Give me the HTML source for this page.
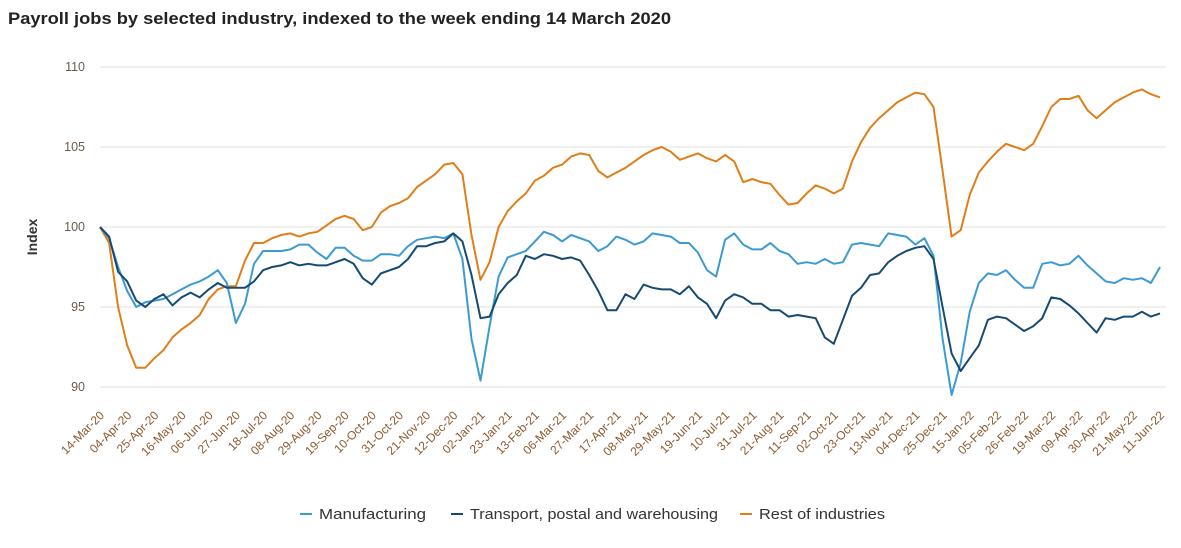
<!DOCTYPE html>
<html><head><meta charset="utf-8"><style>
body{margin:0;background:#fff;font-family:"Liberation Sans",sans-serif;}
svg text{font-family:"Liberation Sans",sans-serif;}
</style></head><body>
<svg id="chart" width="1181" height="543" xmlns="http://www.w3.org/2000/svg">
<text x="8" y="24" font-size="16.5" font-weight="bold" fill="#222" textLength="663" lengthAdjust="spacingAndGlyphs">Payroll jobs by selected industry, indexed to the week ending 14 March 2020</text>
<text transform="translate(37,237) rotate(-90)" text-anchor="middle" font-size="14" font-weight="bold" fill="#333">Index</text>
<g id="grid"></g><g id="xlabels"></g><g id="series"></g>
<g>
<line x1="300" y1="514" x2="312" y2="514" stroke="#3c9ad3" stroke-width="2"/>
<text x="319" y="519" font-size="15" fill="#333" textLength="107" lengthAdjust="spacingAndGlyphs">Manufacturing</text>
<line x1="451" y1="514" x2="463" y2="514" stroke="#164a70" stroke-width="2"/>
<text x="470" y="519" font-size="15" fill="#333" textLength="248" lengthAdjust="spacingAndGlyphs">Transport, postal and warehousing</text>
<line x1="740" y1="514" x2="752" y2="514" stroke="#e07e1a" stroke-width="2"/>
<text x="759" y="519" font-size="15" fill="#333" textLength="126" lengthAdjust="spacingAndGlyphs">Rest of industries</text>
</g>
</svg>
<script>
const yTicks=[90,95,100,105,110];
const tickLabels=["14-Mar-20","04-Apr-20","25-Apr-20","16-May-20","06-Jun-20","27-Jun-20","18-Jul-20","08-Aug-20","29-Aug-20","19-Sep-20","10-Oct-20","31-Oct-20","21-Nov-20","12-Dec-20","02-Jan-21","23-Jan-21","13-Feb-21","06-Mar-21","27-Mar-21","17-Apr-21","08-May-21","29-May-21","19-Jun-21","10-Jul-21","31-Jul-21","21-Aug-21","11-Sep-21","02-Oct-21","23-Oct-21","13-Nov-21","04-Dec-21","25-Dec-21","15-Jan-22","05-Feb-22","26-Feb-22","19-Mar-22","09-Apr-22","30-Apr-22","21-May-22","11-Jun-22"];
const manufacturing=[100,99.3,97.5,96.0,95.0,95.3,95.4,95.5,95.8,96.1,96.4,96.6,96.9,97.3,96.5,94.0,95.2,97.7,98.5,98.5,98.5,98.6,98.9,98.9,98.4,98.0,98.7,98.7,98.2,97.9,97.9,98.3,98.3,98.2,98.8,99.2,99.3,99.4,99.3,99.6,98.0,93.0,90.4,93.8,96.9,98.1,98.3,98.5,99.1,99.7,99.5,99.1,99.5,99.3,99.1,98.5,98.8,99.4,99.2,98.9,99.1,99.6,99.5,99.4,99.0,99.0,98.4,97.3,96.9,99.2,99.6,98.9,98.6,98.6,99.0,98.5,98.3,97.7,97.8,97.7,98.0,97.7,97.8,98.9,99.0,98.9,98.8,99.6,99.5,99.4,98.9,99.3,98.2,93.0,89.5,91.5,94.7,96.5,97.1,97.0,97.3,96.7,96.2,96.2,97.7,97.8,97.6,97.7,98.2,97.6,97.1,96.6,96.5,96.8,96.7,96.8,96.5,97.5];
const transport=[100,99.4,97.2,96.6,95.4,95.0,95.5,95.8,95.1,95.6,95.9,95.6,96.1,96.5,96.2,96.2,96.2,96.6,97.3,97.5,97.6,97.8,97.6,97.7,97.6,97.6,97.8,98.0,97.7,96.8,96.4,97.1,97.3,97.5,98.0,98.8,98.8,99.0,99.1,99.6,99.1,97.0,94.3,94.4,95.8,96.5,97.0,98.2,98.0,98.3,98.2,98.0,98.1,97.9,97.0,96.0,94.8,94.8,95.8,95.5,96.4,96.2,96.1,96.1,95.8,96.3,95.6,95.2,94.3,95.4,95.8,95.6,95.2,95.2,94.8,94.8,94.4,94.5,94.4,94.3,93.1,92.7,94.2,95.7,96.2,97.0,97.1,97.8,98.2,98.5,98.7,98.8,98.0,95.0,92.1,91.0,91.8,92.6,94.2,94.4,94.3,93.9,93.5,93.8,94.3,95.6,95.5,95.1,94.6,94.0,93.4,94.3,94.2,94.4,94.4,94.7,94.4,94.6];
const rest=[100,99,95,92.6,91.2,91.2,91.8,92.3,93.1,93.6,94.0,94.5,95.5,96.1,96.3,96.3,97.9,99.0,99.0,99.3,99.5,99.6,99.4,99.6,99.7,100.1,100.5,100.7,100.5,99.8,100.0,100.9,101.3,101.5,101.8,102.5,102.9,103.3,103.9,104.0,103.3,99.5,96.7,97.8,100.0,101.0,101.6,102.1,102.9,103.2,103.7,103.9,104.4,104.6,104.5,103.5,103.1,103.4,103.7,104.1,104.5,104.8,105.0,104.7,104.2,104.4,104.6,104.3,104.1,104.5,104.1,102.8,103.0,102.8,102.7,102.0,101.4,101.5,102.1,102.6,102.4,102.1,102.4,104.1,105.3,106.2,106.8,107.3,107.8,108.1,108.4,108.3,107.5,103.5,99.4,99.8,102.0,103.4,104.1,104.7,105.2,105.0,104.8,105.2,106.3,107.5,108.0,108.0,108.2,107.3,106.8,107.3,107.8,108.1,108.4,108.6,108.3,108.1];
const NS="http://www.w3.org/2000/svg";
const x0=100,x1=1160,yTop=67,yBot=387,vMin=90,vMax=110;
const n=manufacturing.length;
function xs(i){return x0+(x1-x0)*i/(n-1);}
function ys(v){return yBot-(v-vMin)/(vMax-vMin)*(yBot-yTop);}
const grid=document.getElementById('grid');
yTicks.forEach(t=>{
 const l=document.createElementNS(NS,'line');
 
 
 l.setAttribute('x1',x0);l.setAttribute('x2',1166);l.setAttribute('y1',ys(t));l.setAttribute('y2',ys(t));
 l.setAttribute('stroke','#e0e0e0');grid.appendChild(l);
 const tx=document.createElementNS(NS,'text');
 
 
 tx.setAttribute('x',85);tx.setAttribute('y',ys(t)+4);tx.setAttribute('text-anchor','end');
 tx.setAttribute('font-size','12.5');tx.setAttribute('fill','#6b5a4a');tx.textContent=t;grid.appendChild(tx);
});
const xl=document.getElementById('xlabels');
tickLabels.forEach((s,k)=>{
 const x=xs(k*3);
 const tx=document.createElementNS(NS,'text');
 
 
 tx.setAttribute('transform','translate('+(x+5)+',416) rotate(-45)');
 tx.setAttribute('text-anchor','end');tx.setAttribute('font-size','12');tx.setAttribute('fill','#8a5a2e');
 tx.textContent=s;xl.appendChild(tx);
});
const sg=document.getElementById('series');
[[rest,'#e07e1a','line-rest-of-industries'],[manufacturing,'#3c9ad3','line-manufacturing'],[transport,'#164a70','line-transport']].forEach(([d,c,nm])=>{
 const p=document.createElementNS(NS,'polyline');
 
 
 p.setAttribute('points',d.map((v,i)=>xs(i).toFixed(1)+','+ys(v).toFixed(1)).join(' '));
 p.setAttribute('fill','none');p.setAttribute('stroke',c);p.setAttribute('stroke-width','2');p.setAttribute('stroke-linejoin','round');
 sg.appendChild(p);
});
</script>
</body></html>
